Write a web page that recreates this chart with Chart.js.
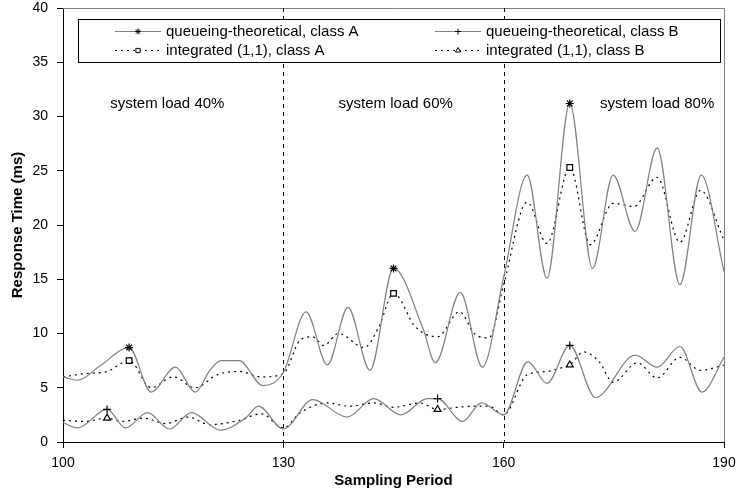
<!DOCTYPE html>
<html>
<head>
<meta charset="utf-8">
<script src="https://cdn.jsdelivr.net/npm/chart.js@4.4.1/dist/chart.umd.min.js"></script>
<style>
    html, body { margin: 0; padding: 0; background: #fff; }
    #wrap { width: 737px; height: 495px; }
</style>
</head>
<body>
<div id="wrap"><canvas id="chart"></canvas></div>
<script>
// ---- DATA ----

// queueing-theoretical, class A
const periodsQA = [100, 102, 105, 109, 112, 115.3, 118, 120, 121.5, 124, 127.2, 130,
    133.1, 136, 138.8, 141.8, 145, 149, 150.7, 154.1, 157.1, 160,
    163.2, 165.9, 169, 172.1, 174.9, 177.9, 180.9, 184, 186.9, 190];
const queueA = [6.0, 5.7, 7.0, 8.7, 4.6, 6.9, 4.6, 6.6, 7.5, 7.5, 5.2, 6.4,
    12.0, 7.1, 12.4, 6.6, 16.0, 10.5, 7.3, 13.8, 6.9, 15.2,
    24.6, 15.1, 31.2, 16.0, 24.6, 19.4, 27.1, 14.5, 24.6, 15.7];

// queueing-theoretical, class B
const periodsQB = [100, 102, 106, 108.5, 111.5, 114.5, 117.5, 121.4, 125, 126.6, 130,
    134, 138.7, 142.3, 146, 149.6, 151, 154.4, 157, 160,
    163.3, 165.9, 169, 172.5, 177.9, 180.9, 184, 187, 190];
const queueB = [1.8, 1.3, 3.0, 1.3, 2.7, 1.2, 2.7, 1.1, 2.3, 3.3, 1.2,
    3.9, 2.3, 4.0, 2.5, 4.0, 4.0, 1.9, 3.6, 2.5,
    7.4, 5.4, 8.9, 4.1, 8.0, 6.9, 8.8, 4.6, 7.8];

// integrated (1,1), class A
const periodsIA = [100, 103, 106, 109, 112, 115, 118, 121, 124, 127, 130,
    132.3, 134, 135.5, 137.5, 141, 143, 145, 148, 151, 154, 156, 158, 160,
    163.2, 165.9, 169, 171.8, 174.9, 177.7, 180.9, 184, 186.8, 190];
const integratedA = [6.0, 6.3, 6.5, 7.5, 5.0, 6.0, 5.0, 6.2, 6.5, 6.0, 6.3,
    9.4, 9.7, 8.9, 10.0, 8.7, 10.6, 13.7, 10.6, 9.7, 12.0, 10.0, 9.6, 14.5,
    22.1, 18.3, 25.3, 18.2, 22.0, 21.7, 24.4, 18.4, 23.2, 18.6];

// integrated (1,1), class B
const periodsIB = [100, 103, 106, 108, 111, 114, 117, 120, 124, 127, 130,
    132.3, 136, 139, 142.3, 145, 148.6, 151, 153.7, 156, 158, 160,
    163.2, 165.9, 167.7, 169, 170.9, 173, 174.9, 178.2, 180.9, 184, 186.8, 190];
const integratedB = [2.0, 1.9, 2.2, 1.9, 2.2, 1.7, 2.3, 1.6, 2.0, 2.6, 1.3,
    2.7, 3.6, 3.3, 3.6, 3.2, 3.6, 3.0, 3.2, 3.3, 3.3, 2.5,
    6.2, 6.5, 6.8, 7.1, 8.3, 7.4, 5.5, 7.3, 5.9, 7.8, 6.6, 7.1];

// periods where Excel put a marker
const markerPeriodsA = [109, 145, 169];
const markerPeriodsB = [106, 151, 169];

const xTicks = [100, 130, 160, 190];
const loadBoundaries = [130, 160];
const loadLabels = ["system load 40%", "system load 60%", "system load 80%"];
const loadLabelPeriods = [114.2, 145.3, 180.9];

const seriesNames = [
    "queueing-theoretical, class A",
    "queueing-theoretical, class B",
    "integrated (1,1), class A",
    "integrated (1,1), class B"
];

// ---- HELPERS ----

function toPoints(periods, values) {
    return periods.map((p, i) => ({ x: p, y: values[i] }));
}

function markerRadius(periods) {
    return ctx => (ctx.raw && periods.includes(ctx.raw.x)) ? 4 : 0;
}

const GRAY = "#808080";
const DOTS = [2, 4];
const FONT = "Arial, 'Liberation Sans', sans-serif";

Chart.defaults.font.family = FONT;
Chart.defaults.color = "#000";

// ---- PLUGINS: frame, load dividers, labels, legend box ----

const frameAndDividers = {
    id: "frameAndDividers",
    beforeDatasetsDraw(chart) {
        const ctx = chart.ctx;
        const a = chart.chartArea;
        const xs = chart.scales.x;
        ctx.save();
        // top and right border of plot area
        ctx.strokeStyle = GRAY;
        ctx.lineWidth = 1;
        ctx.beginPath();
        ctx.moveTo(a.left, a.top + 0.5);
        ctx.lineTo(a.right + 0.5, a.top + 0.5);
        ctx.lineTo(a.right + 0.5, a.bottom);
        ctx.stroke();
        // dashed dividers between load levels
        ctx.strokeStyle = "#000";
        ctx.setLineDash([4, 4]);
        for (let p of loadBoundaries) {
            const px = Math.round(xs.getPixelForValue(p)) + 0.5;
            ctx.beginPath();
            ctx.moveTo(px, a.top);
            ctx.lineTo(px, a.bottom);
            ctx.stroke();
        }
        ctx.restore();
    },
    afterDatasetsDraw(chart) {
        const ctx = chart.ctx;
        const a = chart.chartArea;
        const xs = chart.scales.x;
        ctx.save();

        // system load labels
        ctx.font = "15px " + FONT;
        ctx.fillStyle = "#000";
        ctx.textAlign = "center";
        ctx.textBaseline = "middle";
        for (let i = 0; i < loadLabels.length; i++) {
            ctx.fillText(loadLabels[i], xs.getPixelForValue(loadLabelPeriods[i]), a.top + 96);
        }

        // legend box
        const x0 = a.left + 15;
        const y0 = a.top + 11;
        const w = a.right - 4 - x0;
        const h = 43;
        ctx.fillStyle = "#fff";
        ctx.fillRect(x0, y0, w, h);
        ctx.strokeStyle = "#000";
        ctx.lineWidth = 1;
        ctx.strokeRect(x0 + 0.5, y0 + 0.5, w, h);

        const cols = [x0 + 37, x0 + 357];
        const rows = [y0 + 12, y0 + 31];
        // legend order: col 0 = class A, col 1 = class B
        const slots = [[0, 0], [1, 0], [0, 1], [1, 1]];
        chart.data.datasets.forEach((ds, i) => {
            const lx = cols[slots[i][0]];
            const ly = rows[slots[i][1]] + 0.5;
            ctx.save();
            ctx.strokeStyle = ds.borderColor;
            ctx.lineWidth = ds.borderWidth;
            ctx.setLineDash(ds.borderDash || []);
            ctx.beginPath();
            ctx.moveTo(lx, ly);
            ctx.lineTo(lx + 46, ly);
            ctx.stroke();
            ctx.restore();
            ctx.save();
            ctx.fillStyle = "#fff";
            ctx.strokeStyle = "#000";
            ctx.lineWidth = 1;
            Chart.helpers.drawPoint(ctx, {
                pointStyle: ds.pointStyle,
                radius: 3,
                rotation: 0,
                borderWidth: 1
            }, lx + 23, ly);
            ctx.restore();
            ctx.fillStyle = "#000";
            ctx.textAlign = "left";
            ctx.font = "15px " + FONT;
            ctx.fillText(ds.label, lx + 51, ly);
        });
        ctx.restore();
    }
};

// ---- CHART ----

new Chart(document.getElementById("chart"), {
    type: "line",
    data: {
        datasets: [
            {
                label: seriesNames[0],
                data: toPoints(periodsQA, queueA),
                borderColor: GRAY,
                borderWidth: 1.2,
                pointStyle: "star",
                pointRadius: markerRadius(markerPeriodsA),
                pointBorderColor: "#000",
                pointBackgroundColor: "#fff"
            },
            {
                label: seriesNames[1],
                data: toPoints(periodsQB, queueB),
                borderColor: GRAY,
                borderWidth: 1.2,
                pointStyle: "cross",
                pointRadius: markerRadius(markerPeriodsB),
                pointBorderColor: "#000",
                pointBackgroundColor: "#fff"
            },
            {
                label: seriesNames[2],
                data: toPoints(periodsIA, integratedA),
                borderColor: "#000",
                borderWidth: 1.2,
                borderDash: DOTS,
                pointStyle: "rect",
                pointRadius: markerRadius(markerPeriodsA),
                pointBorderColor: "#000",
                pointBackgroundColor: "#fff"
            },
            {
                label: seriesNames[3],
                data: toPoints(periodsIB, integratedB),
                borderColor: "#000",
                borderWidth: 1.2,
                borderDash: DOTS,
                pointStyle: "triangle",
                pointRadius: markerRadius(markerPeriodsB),
                pointBorderColor: "#000",
                pointBackgroundColor: "#fff"
            }
        ]
    },
    options: {
        responsive: true,
        maintainAspectRatio: false,
        animation: false,
        events: [],
        cubicInterpolationMode: "monotone",
        layout: { padding: 0 },
        plugins: {
            legend: { display: false },
            tooltip: { enabled: false }
        },
        scales: {
            x: {
                type: "linear",
                min: 100,
                max: 190,
                afterBuildTicks: axis => { axis.ticks = xTicks.map(v => ({ value: v })); },
                // pin the plot area to the reference layout
                afterFit: s => { s.height = 53; s.paddingLeft = 0; s.paddingRight = 13; },
                ticks: { font: { size: 14 }, padding: 7, maxRotation: 0, autoSkip: false },
                grid: { drawOnChartArea: false, tickLength: 6, tickColor: "#000" },
                border: { color: "#000" },
                title: {
                    display: true,
                    text: "Sampling Period",
                    font: { size: 15, weight: "bold" },
                    padding: { top: 0, bottom: 5 }
                }
            },
            y: {
                min: 0,
                max: 40,
                afterFit: s => { s.width = 63; s.paddingTop = 8; s.paddingBottom = 0; },
                ticks: { stepSize: 5, font: { size: 14 }, padding: 9 },
                grid: { drawOnChartArea: false, tickLength: 6, tickColor: "#000" },
                border: { color: "#000" },
                title: {
                    display: true,
                    text: "Response Time (ms)",
                    font: { size: 15, weight: "bold" },
                    padding: { top: 9, bottom: 0 }
                }
            }
        }
    },
    plugins: [frameAndDividers]
});
</script>
</body>
</html>
